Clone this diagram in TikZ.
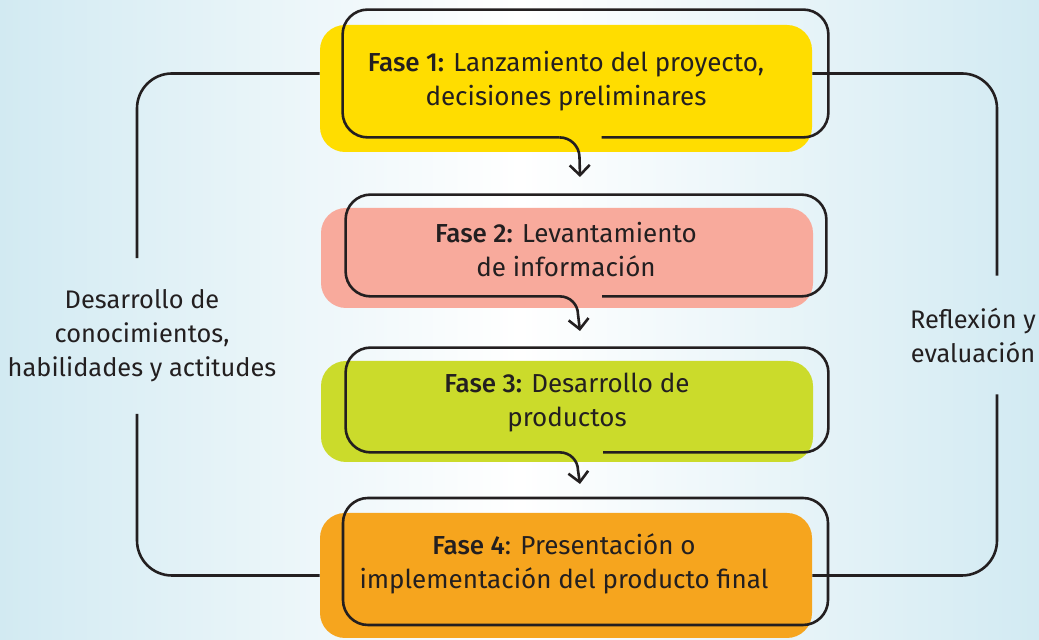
\documentclass[tikz,border=0pt]{standalone}
\usepackage{fontspec}
\setmainfont{Fira Sans}[BoldFont={Fira Sans Medium}]
\usetikzlibrary{arrows.meta}
\usetikzlibrary{positioning}
\usetikzlibrary{calc}
\definecolor{faseyellow}{RGB}{255,221,0}
\definecolor{fasepink}{RGB}{248,170,156}
\definecolor{fasegreen}{RGB}{203,219,43}
\definecolor{faseorange}{RGB}{246,165,30}
\definecolor{inkgray}{RGB}{35,31,32}
\definecolor{skyblue}{RGB}{210,234,242}

\tikzset{
  fasebox/.style={rounded corners=12.5pt, inner sep=0pt, minimum width=246pt},
  frame/.style={rounded corners=12.5pt, inner sep=0pt},
  fasetext/.style={align=center, text=inkgray, font=\fontsize{13}{17}\selectfont, inner sep=0pt},
  sidetext/.style={align=center, text=inkgray, font=\fontsize{12.7}{17}\selectfont, inner sep=0pt},
  line/.style={draw=inkgray, line width=1.3pt},
  flow/.style={line, -{Straight Barb[length=5pt,width=10pt]}}
}

\begin{document}
\begin{tikzpicture}[x=0.5pt,y=0.5pt]
      \shade[left color=skyblue, right color=skyblue, middle color=white] (0,0) rectangle (1039,640);
      \useasboundingbox (0,0) rectangle (1039,640);
      % colour blocks
      \node[fasebox, fill=faseyellow, minimum height=63.5pt] (f1) at (566,551.5) {};
      \node[fasebox, fill=fasepink,   minimum height=50pt]   (f2) at (567,382)   {};
      \node[fasebox, fill=fasegreen,  minimum height=50.5pt] (f3) at (567,228.5) {};
      \node[fasebox, fill=faseorange, minimum height=62.5pt] (f4) at (566,64.5)  {};
      % frames
      \node[frame, minimum width=242.5pt, minimum height=63.5pt] (o1) at (585.5,566.5) {};
      \node[frame, minimum width=240pt,   minimum height=50.5pt] (o2) at (586,394.5)   {};
      \node[frame, minimum width=241pt,   minimum height=52pt]   (o3) at (587,240)     {};
      \node[frame, line, minimum width=242.5pt, minimum height=63.5pt] (o4) at (585.5,78.5) {};
      \draw[line, rounded corners=12.5pt] ([xshift=8pt]o1.south) -| (o1.north east) -| (o1.south west) -- ([xshift=-13pt]o1.south);
      \draw[line, rounded corners=12.5pt] ([xshift=8pt]o2.south) -| (o2.north east) -| (o2.south west) -- ([xshift=-13pt]o2.south);
      \draw[line, rounded corners=12.5pt] ([xshift=8pt]o3.south) -| (o3.north east) -| (o3.south west) -- ([xshift=-13.5pt]o3.south);
      % arrows
      \coordinate (a1) at (580,463);
      \coordinate (a2) at (580,309);
      \coordinate (a3) at (580,156);
      \draw[flow] ([xshift=-13pt]o1.south)   arc[start angle=90, end angle=0, radius=10pt] -- (a1);
      \draw[flow] ([xshift=-13pt]o2.south)   arc[start angle=90, end angle=0, radius=9pt]  -- (a2);
      \draw[flow] ([xshift=-13.5pt]o3.south) arc[start angle=90, end angle=0, radius=9pt]  -- (a3);
      % texts
      \node[fasetext] (t1) at (566,559)   {\textbf{Fase 1:} Lanzamiento del proyecto,\\ decisiones preliminares};
      \node[fasetext] (t2) at (566,390)   {\textbf{Fase 2:} Levantamiento\\ de información};
      \node[fasetext] (t3) at (567,237.5) {\textbf{Fase 3:} Desarrollo de\\ productos};
      \node[fasetext] (t4) at (564,76)    {\textbf{Fase 4}: Presentación o\\ implementación del producto final};
      \node[sidetext, minimum height=77.5pt] (lt) at (142,304) {Desarrollo de\\ conocimientos,\\ habilidades y actitudes};
      \node[sidetext, minimum height=59pt]   (rt) at (973,305) {Reflexión y\\ evaluación};
      \coordinate (lx) at (137,0);
      \coordinate (rx) at (997,0);
      % side brackets
      \draw[line, rounded corners=17.5pt] (f1.west |- o1.west) -| (lt.north -| lx);
      \draw[line, rounded corners=17.5pt] (lt.south -| lx) |- (f4.west);
      \draw[line, rounded corners=17.5pt] (f1.east |- o1.east) -| (rt.north -| rx);
      \draw[line, rounded corners=17.5pt] (rt.south -| rx) |- (f4.east);
    \end{tikzpicture}
\end{document}
